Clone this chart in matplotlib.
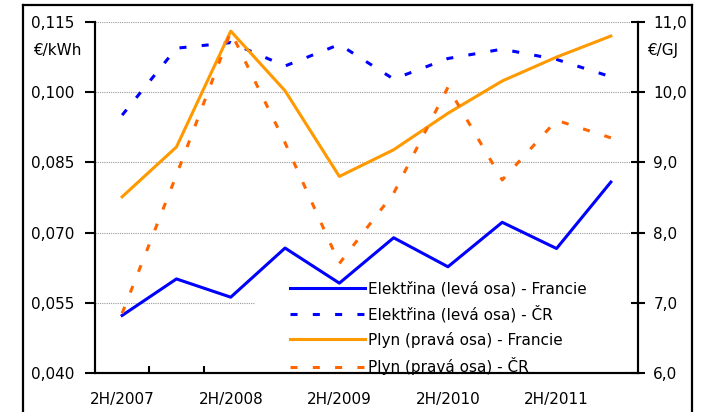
import numpy as np
import matplotlib.pyplot as plt
from matplotlib.patches import Rectangle
from matplotlib.lines import Line2D

# half-year periods 2H/2007 .. 1H/2012
periods = ['2H/2007', '1H/2008', '2H/2008', '1H/2009', '2H/2009',
           '1H/2010', '2H/2010', '1H/2011', '2H/2011', '1H/2012']

# electricity, EUR/kWh (left axis)
elek_fr = [0.0523, 0.0601, 0.0562, 0.0667, 0.0592, 0.0689, 0.0627, 0.0722, 0.0666, 0.0808]
elek_cr = [0.0951, 0.1094, 0.1106, 0.1056, 0.1102, 0.1028, 0.1072, 0.1092, 0.1070, 0.1033]

# gas, EUR/GJ (right axis)
plyn_fr = [8.51, 9.22, 10.87, 10.02, 8.80, 9.18, 9.70, 10.16, 10.50, 10.80]
plyn_cr = [6.85, 8.82, 10.86, 9.28, 7.56, 8.56, 10.07, 8.75, 9.60, 9.35]

left_ticks = [0.040, 0.055, 0.070, 0.085, 0.100, 0.115]
right_ticks = [6.0, 7.0, 8.0, 9.0, 10.0, 11.0]

plt.rcParams['font.family'] = ['DejaVu Sans']
fs = 11

fig = plt.figure(figsize=(7.03, 4.12), dpi=100)
ax = fig.add_axes([95/703, 39/412, 543/703, 351/412])
ax2 = ax.twinx()

x = np.arange(len(periods))
blue = '#0000FF'
orange = '#FF9900'
red_orange = '#FF6600'
dash = (0, (2.3, 5.0))

l1, = ax.plot(x, elek_fr, color=blue, lw=2.2, zorder=3,
              label='Elektřina (levá osa) - Francie')
l2, = ax.plot(x, elek_cr, color=blue, lw=2.2, ls=dash, dash_capstyle='butt',
              zorder=3, label='Elektřina (levá osa) - ČR')
l3, = ax2.plot(x, plyn_fr, color=orange, lw=2.2, zorder=3,
               label='Plyn (pravá osa) - Francie')
l4, = ax2.plot(x, plyn_cr, color=red_orange, lw=2.2, ls=dash,
               dash_capstyle='butt', zorder=3, label='Plyn (pravá osa) - ČR')

ax.set_xlim(-0.5, len(periods) - 0.5)
ax.set_ylim(0.040, 0.115)
ax2.set_ylim(6.0, 11.0)

# grid
ax.set_axisbelow(True)
ax.yaxis.grid(True, color='#999999', ls=(0, (1, 1)), lw=0.8)
ax.spines['top'].set_visible(False)
ax2.spines['top'].set_visible(False)
for a in (ax, ax2):
    for s in ('left', 'right', 'bottom'):
        a.spines[s].set_linewidth(1.5)

# white box behind legend
ax.add_patch(Rectangle((255, 39), 383, 95, transform=None,
                       facecolor='white', edgecolor='none', zorder=1))

ax.set_yticks(left_ticks)
ax.set_yticklabels([f'{v:.3f}'.replace('.', ',') for v in left_ticks], fontsize=fs)
ax.tick_params(axis='y', direction='out', length=7, width=1.5, pad=8)
ax2.set_yticks(right_ticks)
ax2.set_yticklabels([f'{v:.1f}'.replace('.', ',') for v in right_ticks], fontsize=fs)
ax2.tick_params(axis='y', direction='inout', length=10, width=1.5, pad=6)

# x ticks between categories, labels on every second period
ax.set_xticks(np.arange(0.5, len(periods) - 1, 1.0))
ax.set_xticklabels([])
ax.tick_params(axis='x', direction='in', length=5, width=1.5)
ax.set_xticks(x[::2], minor=True)
ax.set_xticklabels(periods[::2], minor=True, fontsize=fs)
ax.tick_params(axis='x', which='minor', length=0, pad=14)

fig.text(57/703, 1 - 50/412, '€/kWh', fontsize=fs, ha='center', va='center')
fig.text(663/703, 1 - 50/412, '€/GJ', fontsize=fs, ha='center', va='center')

leg = ax2.legend(handles=[l1, l2, l3, l4], loc='lower left',
                 bbox_to_anchor=(290/703, 37/412), bbox_transform=fig.transFigure,
                 frameon=False, fontsize=fs, handlelength=4.9, handletextpad=0.2,
                 labelspacing=0.6, borderpad=0, borderaxespad=0)

# outer frame
for xs, ys in [([23, 23], [0, 407]), ([23, 692], [407, 407]), ([692, 692], [407, 0])]:
    fig.add_artist(Line2D([v/703 for v in xs], [v/412 for v in ys], color='black', lw=1.6))

fig.savefig('out.png', dpi=100)
